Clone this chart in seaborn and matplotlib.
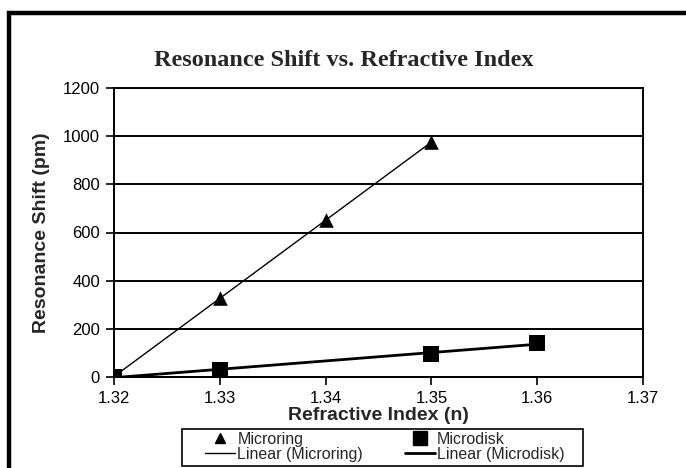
import numpy as np
import pandas as pd
import matplotlib
matplotlib.use('Agg')
import matplotlib.pyplot as plt
from matplotlib.patches import Rectangle
from matplotlib.lines import Line2D
import seaborn as sns

# values
ring_n = [1.32, 1.33, 1.34, 1.35]
ring_shift = [0, 330, 650, 975]
disk_n = [1.32, 1.33, 1.35, 1.36]
disk_shift = [0, 30, 97, 140]

ring_df = pd.DataFrame({'n': ring_n, 'shift': ring_shift})
disk_df = pd.DataFrame({'n': disk_n, 'shift': disk_shift})

sns.set_style('white')
plt.rcParams['font.family'] = ['Liberation Sans', 'DejaVu Sans']

W, H = 686, 468
fig = plt.figure(figsize=(W / 100, H / 100), dpi=100)
ax = fig.add_axes([114 / W, 1 - 377 / H, (643 - 114) / W, (377 - 88) / H])

# linear trendlines + markers
sns.regplot(data=ring_df, x='n', y='shift', ax=ax, ci=None, marker='^', color='black',
            scatter_kws={'s': 110, 'zorder': 4, 'linewidths': 0, 'alpha': 1},
            line_kws={'lw': 1.0, 'zorder': 3})
sns.regplot(data=disk_df, x='n', y='shift', ax=ax, ci=None, marker='s', color='black',
            scatter_kws={'s': 120, 'zorder': 5, 'linewidths': 0, 'alpha': 1},
            line_kws={'lw': 2.0, 'zorder': 3})

ax.set_xlim(1.32, 1.37)
ax.set_ylim(0, 1200)
ax.set_xticks([1.32, 1.33, 1.34, 1.35, 1.36, 1.37])
ax.set_yticks(range(0, 1201, 200))
ax.set_xticklabels(['1.32', '1.33', '1.34', '1.35', '1.36', '1.37'])
ax.yaxis.grid(True, color='black', lw=1.4)
ax.set_axisbelow(True)
ax.set_xlabel('')
ax.set_ylabel('')
for s in ax.spines.values():
    s.set_color('black')
    s.set_linewidth(1.4)
ax.tick_params(axis='both', which='major', direction='out', length=6, width=1.2,
               color='black', labelsize=12, labelcolor='black', pad=4,
               bottom=True, left=True)

fig.text(344 / W, 1 - 60 / H, 'Resonance Shift vs. Refractive Index', ha='center', va='center',
         fontsize=17.5, fontweight='bold', family='Liberation Serif')
fig.text(42 / W, 1 - 233 / H, 'Resonance Shift (pm)', rotation=90, ha='center', va='center',
         fontsize=14, fontweight='bold')
fig.text(378 / W, 1 - 416 / H, 'Refractive Index (n)', ha='center', va='center',
         fontsize=14, fontweight='bold')

handles = [
    Line2D([], [], ls='none', marker='^', color='black', markersize=7),
    Line2D([], [], color='black', lw=1.0),
    Line2D([], [], ls='none', marker='s', color='black', markersize=10),
    Line2D([], [], color='black', lw=2.0),
]
labels = ['Microring', 'Linear (Microring)', 'Microdisk', 'Linear (Microdisk)']
leg = fig.legend(handles, labels, ncol=2, loc='center left',
                 bbox_to_anchor=(205 / W, 1 - 447 / H), borderaxespad=0,
                 fontsize=11.5, frameon=False,
                 handlelength=1.9, handletextpad=0.12, columnspacing=2.6,
                 labelspacing=0.0, borderpad=0)

# legend box
fig.add_artist(Rectangle((182 / W, 1 - 466 / H), (583 - 182) / W, 37 / H,
                         transform=fig.transFigure, fill=False, lw=1.2, edgecolor='black'))

# thick outer frame of the chart object
fig.add_artist(Rectangle((9 / W, -0.2), 2, 1.2 - 13 / H, transform=fig.transFigure,
                         fill=False, lw=3.2, edgecolor='black'))

fig.savefig('out.png', dpi=100, facecolor='white')
